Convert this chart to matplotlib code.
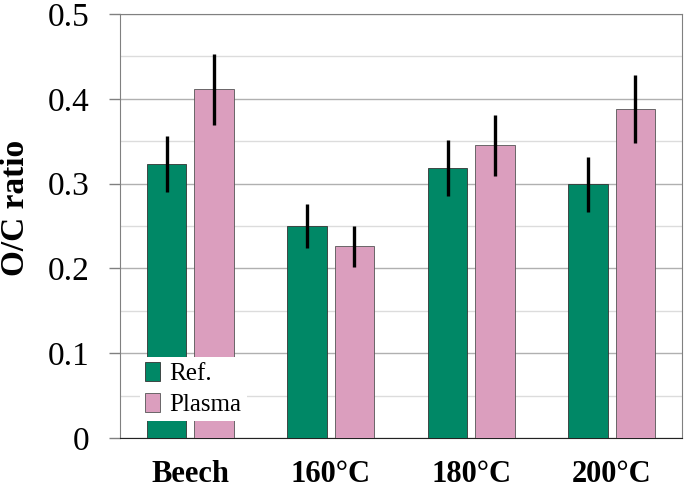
import matplotlib.pyplot as plt
import numpy as np

categories = ['Beech', '160°C', '180°C', '200°C']
ref_vals = [0.323, 0.250, 0.318, 0.299]
ref_err = [0.033, 0.026, 0.033, 0.032]
plasma_vals = [0.411, 0.226, 0.345, 0.388]
plasma_err = [0.042, 0.024, 0.036, 0.040]

green = '#008866'
pink = '#DB9EBE'

plt.rcParams['font.family'] = ['Liberation Serif', 'DejaVu Serif']

fig = plt.figure(figsize=(6.85, 4.88), dpi=100)
ax = fig.add_axes([120 / 685, 1 - 438 / 488, 562 / 685, 424 / 488])

x = np.arange(len(categories)) + 0.5
w = 0.28
off = 0.168
ax.bar(x - off, ref_vals, w, color=green, edgecolor='#333333', linewidth=0.6,
       label='Ref.', zorder=3)
ax.bar(x + off, plasma_vals, w, color=pink, edgecolor='#555555', linewidth=0.6,
       label='Plasma', zorder=3)
ax.errorbar(x - off, ref_vals, yerr=ref_err, fmt='none', ecolor='black',
            elinewidth=2.4, capsize=0, zorder=4)
ax.errorbar(x + off, plasma_vals, yerr=plasma_err, fmt='none', ecolor='black',
            elinewidth=2.4, capsize=0, zorder=4)

ax.set_xlim(0, 4)
ax.set_ylim(0, 0.5)
ax.set_yticks(np.arange(0, 0.51, 0.1))
ax.set_yticklabels(['0', '0.1', '0.2', '0.3', '0.4', '0.5'])
ax.set_yticks(np.arange(0.05, 0.5, 0.1), minor=True)
ax.grid(axis='y', which='major', color='#b0b0b0', linewidth=1.0, zorder=0)
ax.grid(axis='y', which='minor', color='#dcdcdc', linewidth=1.0, zorder=0)
ax.tick_params(axis='y', which='major', length=8, width=1, color='#808080',
               labelsize=24, pad=14)
ax.tick_params(axis='y', which='minor', length=0)
ax.set_xticks(x)
ax.set_xticklabels(categories, fontsize=22, fontweight='bold')
ax.tick_params(axis='x', length=0, pad=16)

for s in ['top', 'right', 'left']:
    ax.spines[s].set_color('#808080')
ax.spines['bottom'].set_color('#222222')

ax.set_ylabel('O/C ratio', fontsize=24, fontweight='bold')
ax.yaxis.set_label_coords(-0.159, 0.542)

leg = ax.legend(loc='lower left', bbox_to_anchor=(0.035, 0.04), fontsize=18,
                frameon=True, fancybox=False, framealpha=1, edgecolor='none',
                handlelength=0.6, handleheight=0.8, handletextpad=0.4,
                borderpad=0.2, labelspacing=0.3, borderaxespad=0)
leg.set_zorder(5)

plt.savefig('out.png', dpi=100)
